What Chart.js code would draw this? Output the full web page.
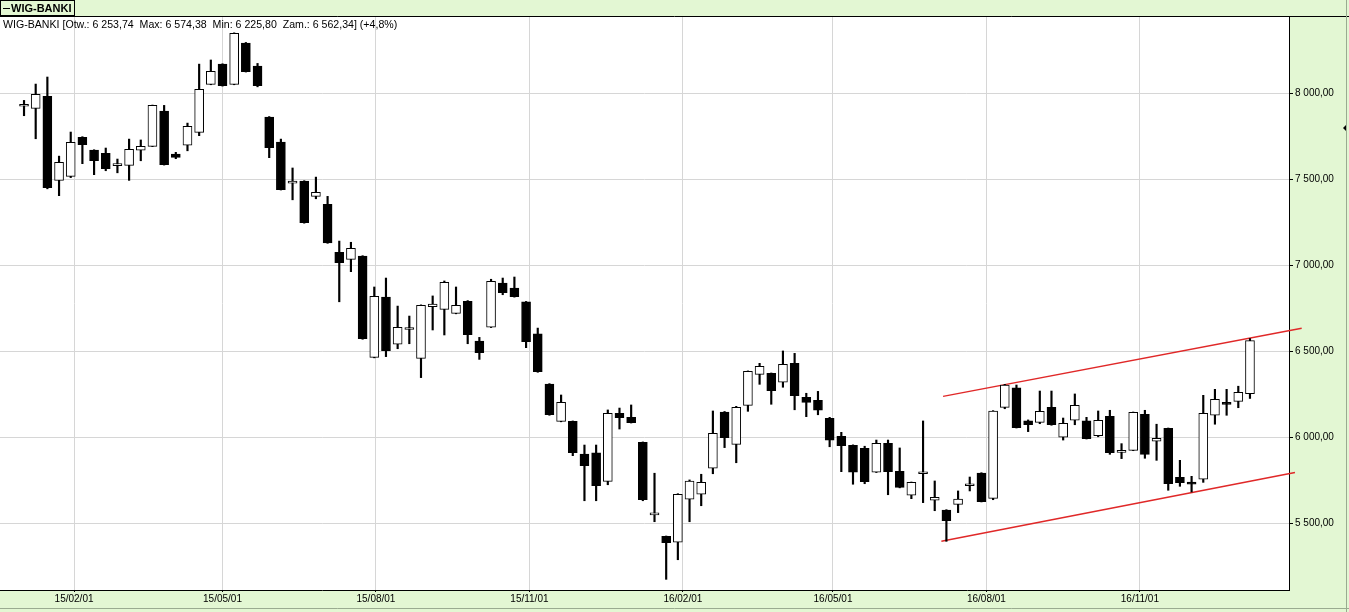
<!DOCTYPE html>
<html>
<head>
<meta charset="utf-8">
<title>WIG-BANKI</title>
<script src="https://cdn.jsdelivr.net/npm/chart.js@4.4.1/dist/chart.umd.min.js"></script>
<style>
  html, body { margin: 0; padding: 0; background: #e3f7d3; }
  #wrap { width: 1349px; height: 612px; position: relative; }
</style>
</head>
<body>
<div id="wrap"><canvas id="wig"></canvas></div>
<script>
// weekly candles, first one dated 2015-01-02
const firstWeek = '2015-01-02';

const open = [
  7925, 7913, 7983, 7494, 7517, 7744, 7670, 7651, 7580, 7581,
  7669, 7692, 7897, 7647, 7698, 7773, 8052, 8170, 8052, 8293,
  8159, 7862, 7717, 7477, 7490, 7401, 7355, 7076, 7035, 7054,
  6465, 6816, 6541, 6627, 6459, 6759, 6744, 6721, 6791, 6560,
  6640, 6897, 6868, 6787, 6601, 6310, 6093, 6093, 5903, 5909,
  5744, 6140, 6116, 5971, 5549, 5424, 5390, 5640, 5669, 5820,
  6147, 5959, 6186, 6366, 6372, 6320, 6430, 6233, 6215, 6110,
  6006, 5953, 5936, 5797, 5965, 5802, 5663, 5788, 5634, 5577,
  5610, 5718, 5792, 5645, 6174, 6287, 6095, 6087, 6174, 6000,
  6099, 6095, 6009, 6122, 5912, 5924, 6134, 5977, 6052, 5767,
  5740, 5756, 6128, 6199, 6209, 6253.74
];
const high = [
  7959, 8054, 8095, 7635, 7775, 7748, 7672, 7682, 7618, 7734,
  7729, 7932, 7930, 7657, 7827, 8170, 8194, 8172, 8352, 8296,
  8174, 7865, 7734, 7566, 7492, 7513, 7401, 7141, 7134, 7056,
  6874, 6926, 6763, 6705, 6770, 6822, 6909, 6874, 6795, 6581,
  6919, 6926, 6932, 6790, 6635, 6312, 6246, 6095, 5955, 5955,
  6159, 6170, 6188, 5973, 5791, 5426, 5672, 5752, 5785, 6153,
  6150, 6180, 6386, 6430, 6374, 6502, 6488, 6256, 6267, 6116,
  6029, 5956, 5948, 5984, 5984, 5938, 5740, 6095, 5746, 5579,
  5688, 5769, 5794, 6155, 6308, 6304, 6101, 6269, 6269, 6112,
  6252, 6116, 6153, 6157, 5963, 6147, 6157, 6076, 6054, 5866,
  5773, 6244, 6279, 6279, 6297, 6574.38
];
const low = [
  7870, 7736, 7445, 7405, 7510, 7591, 7527, 7550, 7538, 7494,
  7608, 7690, 7583, 7620, 7666, 7754, 8050, 8042, 8050, 8124,
  8038, 7626, 7438, 7381, 7245, 7387, 7128, 6788, 6963, 6570,
  6462, 6469, 6515, 6544, 6347, 6624, 6595, 6718, 6544, 6453,
  6638, 6829, 6815, 6521, 6378, 6128, 6090, 5893, 5631, 5631,
  5724, 6048, 6083, 5631, 5509, 5174, 5288, 5509, 5602, 5788,
  5940, 5852, 6151, 6308, 6192, 6291, 6160, 6120, 6131, 5945,
  5800, 5727, 5730, 5795, 5666, 5706, 5643, 5620, 5573, 5395,
  5562, 5688, 5624, 5637, 6166, 6054, 6033, 6079, 6070, 5984,
  6073, 5990, 6003, 5901, 5876, 5922, 5878, 5866, 5692, 5715,
  5682, 5738, 6076, 6128, 6172, 6225.80
];
const close = [
  7932, 7994, 7451, 7599, 7715, 7701, 7608, 7562, 7586, 7674,
  7692, 7930, 7585, 7628, 7808, 8023, 8128, 8044, 8349, 8126,
  8044, 7684, 7440, 7490, 7248, 7424, 7131, 7015, 7099, 6573,
  6820, 6504, 6640, 6633, 6767, 6775, 6901, 6767, 6597, 6492,
  6907, 6841, 6817, 6556, 6381, 6131, 6203, 5910, 5835, 5719,
  6140, 6114, 6085, 5637, 5555, 5387, 5669, 5746, 5738, 6023,
  5998, 6174, 6384, 6413, 6271, 6424, 6242, 6203, 6157, 5983,
  5951, 5797, 5742, 5965, 5800, 5709, 5738, 5794, 5651, 5515,
  5641, 5724, 5626, 6153, 6304, 6056, 6073, 6151, 6073, 6081,
  6186, 5992, 6099, 5910, 5918, 6145, 5901, 5994, 5730, 5736,
  5727, 6140, 6221, 6191, 6262, 6562.34
];

// channel lines drawn on the chart
const upperDates = ['2016-07-06', '2017-02-06'];
const upperVals = [6238, 6634];
const lowerDates = ['2016-07-05', '2017-02-02'];
const lowerVals = [5395, 5795];

const xTickDates = ['2015-02-01', '2015-05-01', '2015-08-01', '2015-11-01',
                    '2016-02-01', '2016-05-01', '2016-08-01', '2016-11-01'];
const xTickLabels = ['15/02/01', '15/05/01', '15/08/01', '15/11/01',
                     '16/02/01', '16/05/01', '16/08/01', '16/11/01'];
const yTicks = [5500, 6000, 6500, 7000, 7500, 8000];

const headerText = 'WIG-BANKI [Otw.: 6 253,74  Max: 6 574,38  Min: 6 225,80  Zam.: 6 562,34] (+4,8%)';

const dayNo = s => (Date.parse(s) - Date.parse('2015-01-01')) / 864e5;
const weekX = close.map((c, i) => dayNo(firstWeek) + 7 * i);
const tickDays = xTickDates.map(dayNo);

function plFormat(v) {
  const [i, d] = v.toFixed(2).split('.');
  return i.replace(/\B(?=(\d{3})+(?!\d))/g, ' ') + ',' + d;
}

const frame = {
  id: 'frame',
  beforeDraw(chart) {
    const { ctx, chartArea: a, width, height } = chart;
    ctx.save();
    ctx.fillStyle = '#e3f7d3';
    ctx.fillRect(0, 0, width, height);
    ctx.fillStyle = '#fff';
    ctx.fillRect(a.left, a.top, a.right - a.left, a.bottom - a.top);
    ctx.restore();
  },
  afterDraw(chart) {
    const { ctx, chartArea: a, width, height } = chart;
    ctx.save();
    // top frame line
    ctx.strokeStyle = '#000';
    ctx.lineWidth = 1;
    ctx.beginPath();
    ctx.moveTo(0, a.top - 0.5);
    ctx.lineTo(width, a.top - 0.5);
    ctx.stroke();
    // legend box
    ctx.strokeRect(0.5, 0.5, 74, 15);
    ctx.beginPath();
    ctx.moveTo(3, 8.5);
    ctx.lineTo(10, 8.5);
    ctx.stroke();
    ctx.fillStyle = '#000';
    ctx.font = 'bold 11px "Liberation Sans"';
    ctx.textBaseline = 'middle';
    ctx.fillText('WIG-BANKI', 11, 8.5);
    // quote line
    ctx.font = '10.6px "Liberation Sans"';
    ctx.fillText(headerText, 3, a.top + 8);
    // outer bevel lines
    ctx.strokeStyle = '#9aab90';
    ctx.beginPath();
    ctx.moveTo(0, height - 3.5);
    ctx.lineTo(width, height - 3.5);
    ctx.moveTo(width - 2.5, 0);
    ctx.lineTo(width - 2.5, height);
    ctx.stroke();
    // scroll marker on the right
    ctx.fillStyle = '#000';
    ctx.beginPath();
    ctx.moveTo(width - 6, 128);
    ctx.lineTo(width - 3, 125);
    ctx.lineTo(width - 3, 131);
    ctx.closePath();
    ctx.fill();
    ctx.restore();
  }
};

const bodyData = weekX.map((x, i) => ({ x: x, y: [open[i], close[i]] }));
const wickData = weekX.map((x, i) => ({ x: x, y: [low[i], high[i]] }));
const bodyFill = close.map((c, i) => c >= open[i] ? '#ffffff' : '#000000');

new Chart(document.getElementById('wig'), {
  type: 'bar',
  data: {
    datasets: [
      {
        label: 'body',
        data: bodyData,
        backgroundColor: bodyFill,
        borderColor: '#000',
        borderWidth: 1,
        borderSkipped: false,
        grouped: false,
        barThickness: 9,
        maxBarThickness: 9,
        barPercentage: 1,
        categoryPercentage: 1,
        minBarLength: 2,
        order: 0
      },
      {
        label: 'wick',
        data: wickData,
        backgroundColor: '#000',
        borderWidth: 0,
        grouped: false,
        barThickness: 1.5,
        maxBarThickness: 1.5,
        barPercentage: 1,
        categoryPercentage: 1,
        order: 1
      },
      {
        type: 'line',
        label: 'upper',
        data: upperDates.map((d, i) => ({ x: dayNo(d), y: upperVals[i] })),
        borderColor: '#e02828',
        borderWidth: 1.5,
        pointRadius: 0,
        clip: false,
        order: 2
      },
      {
        type: 'line',
        label: 'lower',
        data: lowerDates.map((d, i) => ({ x: dayNo(d), y: lowerVals[i] })),
        borderColor: '#e02828',
        borderWidth: 1.5,
        pointRadius: 0,
        clip: false,
        order: 3
      }
    ]
  },
  options: {
    responsive: true,
    maintainAspectRatio: false,
    animation: false,
    events: [],
    layout: { padding: { top: 17, left: 0, right: 0, bottom: 0 } },
    plugins: {
      legend: { display: false },
      tooltip: { enabled: false }
    },
    scales: {
      x: {
        type: 'linear',
        offset: false,
        min: -13.4,
        max: 759.4,
        afterBuildTicks: s => { s.ticks = tickDays.map(v => ({ value: v })); },
        afterFit: s => { s.height = 22; },
        grid: { offset: false, color: '#d6d6d6', lineWidth: 1, tickLength: 2, tickColor: '#000' },
        border: { color: '#000', width: 1 },
        ticks: {
          autoSkip: false,
          maxRotation: 0,
          padding: 1,
          color: '#000',
          font: { family: 'Liberation Sans', size: 10 },
          callback: v => xTickLabels[tickDays.indexOf(v)]
        }
      },
      y: {
        position: 'right',
        min: 5112,
        max: 8444,
        afterBuildTicks: s => { s.ticks = yTicks.map(v => ({ value: v })); },
        afterFit: s => { s.width = 60; },
        grid: { color: '#d6d6d6', lineWidth: 1, tickLength: 4, tickColor: '#000' },
        border: { color: '#000', width: 1 },
        ticks: {
          padding: 2,
          color: '#000',
          font: { family: 'Liberation Sans', size: 10 },
          callback: v => plFormat(v)
        }
      }
    }
  },
  plugins: [frame]
});
</script>
</body>
</html>
